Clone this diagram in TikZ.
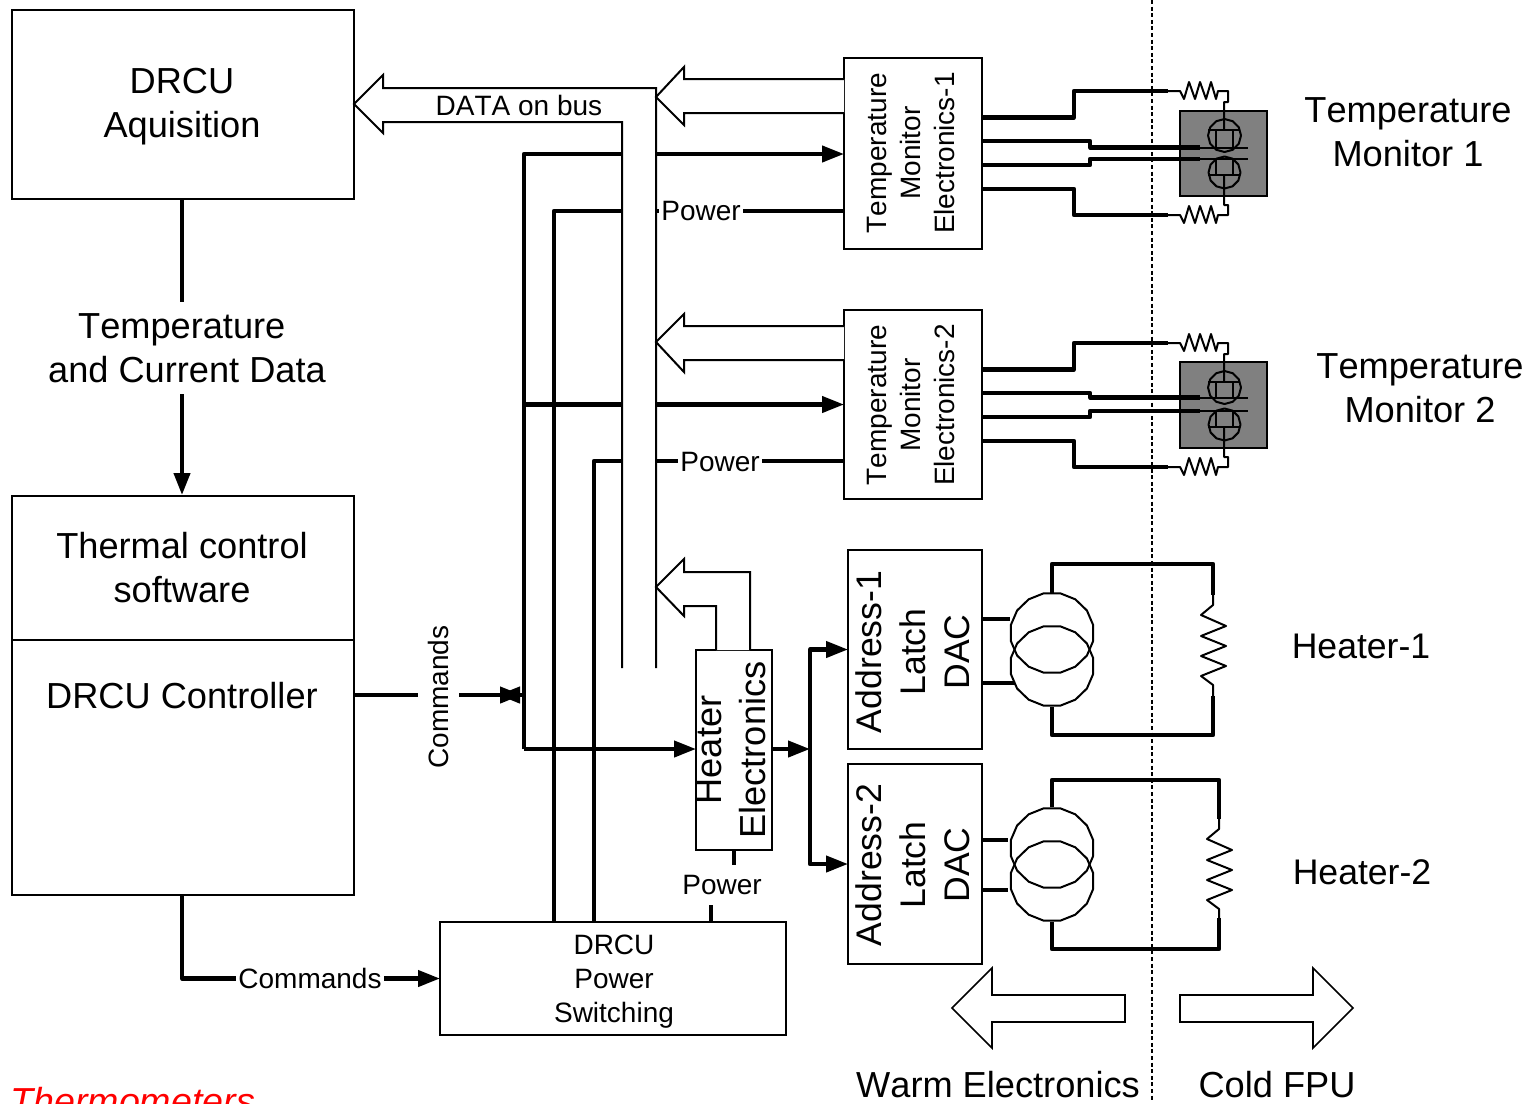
\documentclass[tikz,border=0pt]{standalone}
\usepackage{fontspec}
\setmainfont[Kerning=Off]{Liberation Sans}
\usetikzlibrary{arrows.meta,calc}
\tikzset{
  thin line/.style={line width=1pt,line join=round},
  bold line/.style={line width=2.1pt,line join=round},
  tipped/.style={bold line,-{Triangle[length=11pt,width=8pt]}},
  bx/.style 2 args={draw,line width=1pt,inner sep=0pt,outer sep=0pt,
     minimum width=#1*0.5pt,minimum height=#2*0.5pt},
  big/.style={font=\fontsize{18.1}{22}\selectfont,align=center,inner sep=0pt},
  mid/.style={font=\fontsize{17.8}{22}\selectfont,align=center,inner sep=0pt},
  small/.style={font=\fontsize{14}{17}\selectfont,align=center,inner sep=0pt},
  wipe/.style={fill=white},
  bus/.style={line width=1pt,line join=miter,fill=white},
}
\newcommand\rzig{--++(4,8)--++(5,-17)--++(6,17)--++(5,-17)--++(6,17)--++(5,-17)--++(5,17)--++(2,-8)}
\newcommand\hzig{--++(-12,10)--++(25,11)--++(-25,10)--++(25,10)--++(-25,10)--++(25,10)--++(-25,10)--++(12,9)}
\newcommand\polyring[3]{\draw[thin line] plot[domain=0:360,samples=13] ({#1+#3*cos(\x)},{#2+#3*sin(\x)});}
\newcommand\polyoval[2]{\draw[thin line] plot[domain=11.25:371.25,samples=17] ({#1+42*cos(\x)},{#2+40.5*sin(\x)});}
\newcommand\tmwires[3]{%
\begin{scope}[shift={(0,#2)}]
\draw[bold line] (#1.east |- 0,117.5) -- (1074,117.5) -- (1074,91) -- (1168,91);
\draw[bold line] (#1.east |- 0,189) -- (1074,189) -- (1074,215) -- (1168,215);
\draw[thin line] (1168,91) -- (1180,91) \rzig -- (1228,91) -- (1228,102) -- (1224,102) -- (1224,130);
\draw[thin line] (1168,215) -- (1180,215) \rzig -- (1228,215) -- (1228,205) -- (1224,205) -- (1224,175);
\polyring{1224.5}{135.5}{16.5}
\polyring{1224.5}{172.5}{16}
\draw[thin line] (1208,130) -- (1240,130) (1216,130) -- (1216,147) (1233,130) -- (1233,147);
\draw[thin line] (1208,175) -- (1240,175) (1216,159) -- (1216,175) (1233,159) -- (1233,175);
\draw[thin line] (1200,#3) -- (1248,#3) (1200,159) -- (1248,159);
\draw[bold line] (#1.east |- 0,141) -- (1090,141) -- (1090,#3) -- (1200,#3);
\draw[bold line] (#1.east |- 0,165) -- (1090,165) -- (1090,159) -- (1200,159);
\end{scope}}
\begin{document}
\begin{tikzpicture}[x=0.5pt,y=-0.5pt]
\useasboundingbox (0,0) rectangle (1530,1103);
\clip (0,0) rectangle (1530,1103);

% boxes
\node[bx={342}{189}] (aq) at (183,104.5) {};
\node[bx={342}{399}] (tc) at (183,695.5) {};
\coordinate (divl) at (tc.west |- 0,640);
\coordinate (divr) at (tc.east |- 0,640);
\draw[line width=1pt] (divl) -- (divr);
\node[bx={138}{191}] (tm1) at (913,153.5) {};
\node[bx={138}{189}] (tm2) at (913,404.5) {};
\node[bx={76}{200}] (he) at (734,750) {};
\node[bx={134}{199}] (ad1) at (915,649.5) {};
\node[bx={134}{200}] (ad2) at (915,864) {};
\node[bx={346}{113}] (pw) at (613,978.5) {};

% bold signal lines (the bus is painted over them)
\coordinate (busA) at (524,154);
\coordinate (busB) at (524,749);
\coordinate (p1) at (554,211);
\coordinate (p2) at (594,461);
\coordinate (split) at (810,749);
\draw[tipped] (busB) -- (busA) -- (tm1.west |- busA);
\draw[tipped] (busB |- tm2.west) -- (tm2.west);
\draw[tipped] (busB) -- (he.west |- busB);
\draw[bold line] (p1 |- pw.north) -- (p1) -- (tm1.west |- p1);
\draw[bold line] (p2 |- pw.north) -- (p2) -- (tm2.west |- p2);
\draw[tipped] (he.east |- split) -- (split);
\draw[tipped] (split) -- (split |- ad1.west) -- (ad1.west);
\draw[tipped] (split) -- (split |- ad2.west) -- (ad2.west);

% hollow bus arrows
\coordinate (dA) at (656,668);
\coordinate (dB) at (622,668);
\fill[white] (dA) -- (656,88) -- (383,88) -- (383,75) -- (355,104) -- (383,133) -- (383,122) -- (622,122) -- (dB) -- cycle;
\draw[bus,fill=none] (dA) -- (656,88) -- (383,88) -- (383,75) -- (aq.east |- 0,104) -- (383,133) -- (383,122) -- (622,122) -- (dB);
\draw[bus] (tm1.west |- 0,79) -- (684,79) -- (684,67) -- (656,97) -- (684,125) -- (684,113) -- (tm1.west |- 0,113);
\draw[bus] (tm2.west |- 0,326) -- (684,326) -- (684,314) -- (656,342) -- (684,372) -- (684,360) -- (tm2.west |- 0,360);
\draw[bus] (716,650) -- (716,606) -- (684,606) -- (684,616) -- (656,587) -- (684,559) -- (684,572) -- (750,572) -- (750,650);
\node[small] (dbus) at (519,105) {DATA on bus};

% labels on lines
\node[small,wipe,inner xsep=1pt,inner ysep=3pt] (pow1) at (701,211) {Power};
\node[small,wipe,inner xsep=1pt,inner ysep=3pt] (pow2) at (720,462) {Power};

% temperature data link
\coordinate (dataTop) at (182,199);
\coordinate (dataEnd) at (182,495);
\draw[tipped] (dataTop) -- (dataEnd);
\node[big,wipe,align=left,inner ysep=5.5pt] (tdata) at (187,348) {\hspace*{15pt}Temperature\\and Current Data};

% commands into the vertical line
\coordinate (cmdE) at (522,695);
\coordinate (cmdW) at (498,695);
\coordinate (cmdR) at (524,695);
\draw[tipped] (tc.east |- cmdE) -- (cmdE);
\draw[tipped] (cmdR) -- (cmdW);
\node[small,wipe,rotate=90,inner xsep=0pt,inner ysep=5pt] (cmd1) at (438.5,697) {Commands};

% commands to power switching
\coordinate (tcb) at (182,895);
\draw[tipped] (tcb) |- (pw.west);
\node[small,wipe,inner xsep=1pt,inner ysep=2pt] (cmd2) at (310,978) {Commands};

% heater power
\node[small,wipe,inner xsep=0pt,inner ysep=4.7pt] (hpow) at (722,885) {Power};
\coordinate (hpb) at (711,922);
\draw[bold line] (he.south) -- (he.south |- hpow.north);
\draw[bold line] (hpb) -- (hpb |- hpow.south);

% box texts
\node[big] (taq) at (182,107) {DRCU\\Aquisition};
\node[big] (ttc) at (182,568) {Thermal control\\software};
\node[big] (tct) at (182,696) {DRCU Controller};
\node[small,rotate=90] (ttm1) at (911,153) {Temperature\\Monitor\\Electronics-1};
\node[small,rotate=90] (ttm2) at (911,405) {Temperature\\Monitor\\Electronics-2};
\node[big,rotate=90] (the) at (731,750) {Heater\\Electronics};
\node[mid,rotate=90] (tad1) at (913,652) {Address-1\\Latch\\DAC};
\node[mid,rotate=90] (tad2) at (913,865) {Address-2\\Latch\\DAC};
\node[small] (tpw) at (614,982) {DRCU\\Power\\Switching};

% temperature sensors
\draw[line width=1pt,fill=black!50] (1180,111) rectangle (1267,196);
\draw[line width=1pt,fill=black!50] (1180,361.5) rectangle (1267,447.5);
\tmwires{tm1}{0}{147.5}
\tmwires{tm2}{252}{145.5}

% heater 1
\polyoval{1052}{633}
\polyoval{1052}{666}
\coordinate (h1a) at (1010,619);
\coordinate (h1b) at (1015,683);
\draw[bold line] (ad1.east |- h1a) -- (h1a);
\draw[bold line] (ad1.east |- h1b) -- (h1b);
\draw[bold line] (1052,593) -- (1052,564) -- (1213,564) -- (1213,595);
\draw[bold line] (1052,707) -- (1052,735) -- (1213,735) -- (1213,696);
\draw[thin line] (1213,595) -- (1213,605) \hzig -- (1213,696);

% heater 2
\polyoval{1052}{848}
\polyoval{1052}{881}
\coordinate (h2a) at (1008,840);
\coordinate (h2b) at (1008,890);
\draw[bold line] (ad2.east |- h2a) -- (h2a);
\draw[bold line] (ad2.east |- h2b) -- (h2b);
\draw[bold line] (1052,807) -- (1052,780) -- (1219,780) -- (1219,819);
\draw[bold line] (1052,922) -- (1052,949) -- (1219,949) -- (1219,918);
\draw[thin line] (1219,819) -- (1219,829) \hzig -- (1219,918);

% warm / cold boundary
\draw[line width=0.8pt,dash pattern=on 2pt off 1.3pt] (1152,0) -- (1152,1100);

% bottom arrows
\draw[line width=0.8pt,line join=miter] (952,1008) -- (992,968) -- (992,995) -- (1125,995) -- (1125,1022) -- (992,1022) -- (992,1048) -- cycle;
\draw[line width=0.8pt,line join=miter] (1353,1008) -- (1313,968) -- (1313,995) -- (1180,995) -- (1180,1022) -- (1313,1022) -- (1313,1048) -- cycle;

% free texts
\node[big] (lt1) at (1408,132) {Temperature\\Monitor 1};
\node[big] (lt2) at (1420,388) {Temperature\\Monitor 2};
\node[mid] (lh1) at (1361,646) {Heater-1};
\node[mid] (lh2) at (1362,872) {Heater-2};
\node[big] (lw) at (998,1085) {Warm Electronics};
\node[big] (lc) at (1277,1085) {Cold FPU};
\node[big,anchor=base west,text=red,font=\fontsize{18.8}{22}\selectfont\itshape] (lth) at (10,1114) {Thermometers};
\end{tikzpicture}
\end{document}
